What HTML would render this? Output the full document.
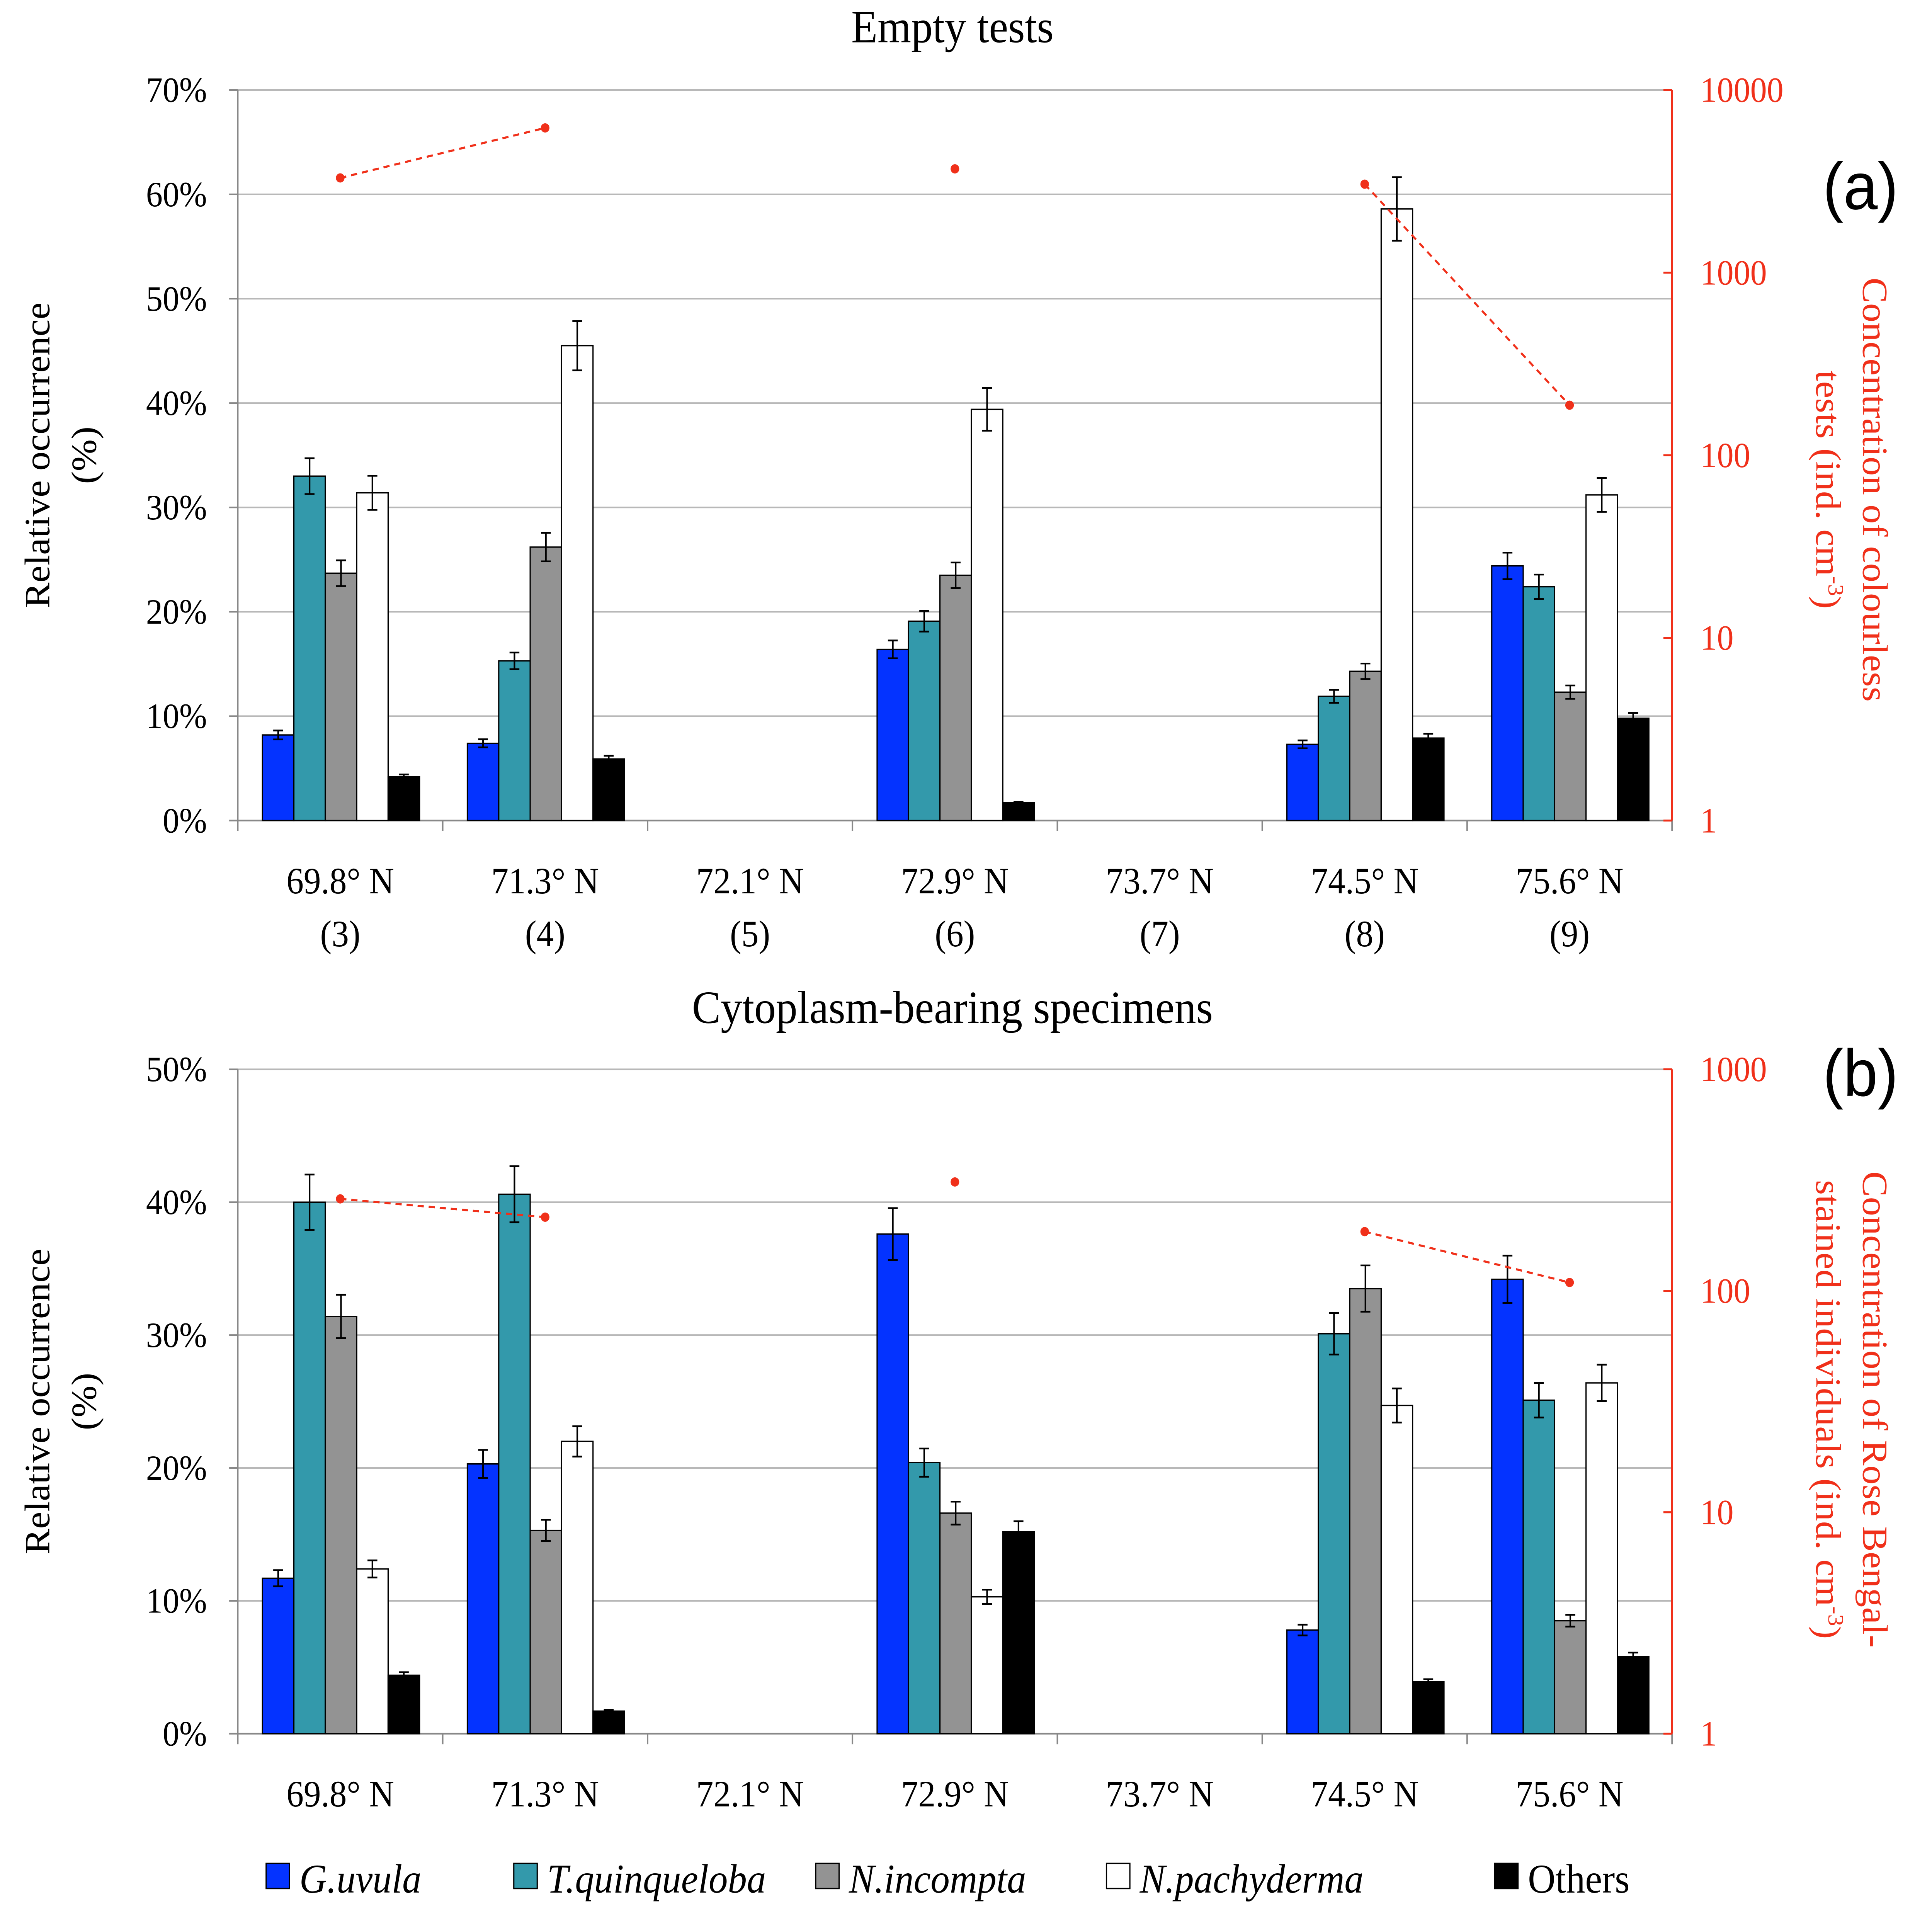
<!DOCTYPE html>
<html><head><meta charset="utf-8"><style>html,body{margin:0;padding:0;background:#fff;width:100%;height:100%;overflow:hidden}svg{display:block;width:100vw;height:100vh}</style></head>
<body>
<svg id="fig" xmlns="http://www.w3.org/2000/svg" viewBox="0 0 1568 1447" preserveAspectRatio="none" font-family="'Liberation Serif', serif">
<rect width="1568" height="1447" fill="#fff"/>
<g id="root"></g>
</svg>
<script>
const categories = ["69.8° N","71.3° N","72.1° N","72.9° N","73.7° N","74.5° N","75.6° N"];
const catNumbers = ["(3)","(4)","(5)","(6)","(7)","(8)","(9)"];
const seriesNames = ["G.uvula","T.quinqueloba","N.incompta","N.pachyderma","Others"];
const seriesColors = ["#0433ff","#3399ab","#939393","#ffffff","#000000"];
// Panel a values (%)
const aGuvula = [8.2, 7.4, null, 16.4, null, 7.3, 24.4];
const aTquin  = [33.0, 15.3, null, 19.1, null, 11.9, 22.4];
const aNinc   = [23.7, 26.2, null, 23.5, null, 14.3, 12.3];
const aNpach  = [31.4, 45.5, null, 39.4, null, 58.6, 31.2];
const aOthers = [4.2, 5.9, null, 1.7, null, 7.9, 9.8];
const aConc   = [3300, 6200, null, 3700, null, 3050, 188];
// Panel b values (%)
const bGuvula = [11.7, 20.3, null, 37.6, null, 7.8, 34.2];
const bTquin  = [40.0, 40.6, null, 20.4, null, 30.1, 25.1];
const bNinc   = [31.4, 15.3, null, 16.6, null, 33.5, 8.5];
const bNpach  = [12.4, 22.0, null, 10.3, null, 24.7, 26.4];
const bOthers = [4.4, 1.7, null, 15.2, null, 3.9, 5.8];
const bConc   = [260, 215, null, 310, null, 185, 109];
const aLeftTicks = ["0%","10%","20%","30%","40%","50%","60%","70%"];
const aRightTicks = ["1","10","100","1000","10000"];
const bLeftTicks = ["0%","10%","20%","30%","40%","50%"];
const bRightTicks = ["1","10","100","1000"];

const NS="http://www.w3.org/2000/svg";
const root=document.getElementById('root');
function mk(tag,attrs,parent,text){const e=document.createElementNS(NS,tag);for(const k in attrs)e.setAttribute(k,attrs[k]);if(text!==undefined)e.textContent=text;(parent||root).appendChild(e);return e;}
const RED="#f0301a";
const X0=193,X1=1357,GW=(X1-X0)/7,BW=25.5,BOFF=20;

function panel(p){
  const g=mk('g',{});
  
  
  const y=v=>p.yb-(v/p.maxPct)*(p.yb-p.yt);
  const yr=v=>p.yb-(Math.log10(v)/p.decades)*(p.yb-p.yt);
  p.leftTicks.forEach((t,i)=>{
    const yy=y(i*10);
    if(i>0){const l=mk('line',{x1:X0,x2:X1,y1:yy,y2:yy,stroke:'#b8b8b8','stroke-width':1.2},g);
    }
    const tk=mk('line',{x1:X0-7,x2:X0,y1:yy,y2:yy,stroke:'#888','stroke-width':1.2},g);
    
    const tx=mk('text',{x:168,y:yy+9,'text-anchor':'end','font-size':27},g,t);
    
  });
  const ax=mk('line',{x1:X0,x2:X0,y1:p.yt,y2:p.yb,stroke:'#888','stroke-width':1.2},g);
  
  const xa=mk('line',{x1:X0,x2:X1,y1:p.yb,y2:p.yb,stroke:'#888','stroke-width':1.2},g);
  
  for(let i=0;i<=7;i++){const xx=X0+i*GW;const t=mk('line',{x1:xx,x2:xx,y1:p.yb,y2:p.yb+8,stroke:'#888','stroke-width':1.2},g);
    }
  const ra=mk('line',{x1:X1,x2:X1,y1:p.yt,y2:p.yb,stroke:RED,'stroke-width':1.5},g);
  
  p.rightTicks.forEach((t,i)=>{const yy=yr(Math.pow(10,i));
    const tk=mk('line',{x1:X1-7,x2:X1,y1:yy,y2:yy,stroke:RED,'stroke-width':1.5},g);
    
    const tx=mk('text',{x:1380,y:yy+9,'font-size':27,fill:RED},g,t);
    });
  p.series.forEach((arr,s)=>{
    arr.forEach((v,i)=>{
      if(v===null)return;
      const x=X0+i*GW+BOFF+s*BW;
      const r=mk('rect',{x:x,y:y(v),width:BW,height:p.yb-y(v),fill:seriesColors[s],stroke:'#000','stroke-width':1},g);
      
      
      const e=v*0.052, cx=x+BW/2;
      const eb=mk('path',{d:`M${cx},${y(v+e)}V${y(v-e)}M${cx-4},${y(v+e)}H${cx+4}M${cx-4},${y(v-e)}H${cx+4}`,stroke:'#000','stroke-width':1.3,fill:'none'},g);
      
    });
  });
  for(let i=0;i<p.conc.length-1;i++){
    if(p.conc[i]!==null&&p.conc[i+1]!==null){
      const l=mk('line',{x1:X0+(i+0.5)*GW,y1:yr(p.conc[i]),x2:X0+(i+1.5)*GW,y2:yr(p.conc[i+1]),stroke:RED,'stroke-width':1.6,'stroke-dasharray':'5,4'},g);
      
    }
  }
  p.conc.forEach((v,i)=>{if(v===null)return;
    const c=mk('circle',{cx:X0+(i+0.5)*GW,cy:yr(v),r:3.5,fill:RED},g);
    });
  categories.forEach((c,i)=>{const cx=X0+(i+0.5)*GW;
    const t=mk('text',{x:cx,y:p.yb+55,'text-anchor':'middle','font-size':28},g,c);
    
    if(p.nums){const t2=mk('text',{x:cx,y:p.yb+95,'text-anchor':'middle','font-size':28},g,catNumbers[i]);
      }
  });
  const title=mk('text',{x:773,y:p.titleY,'text-anchor':'middle','font-size':35},g,p.title);
  
  const cy=(p.yt+p.yb)/2;
  const lt=mk('text',{transform:`translate(40,${cy}) rotate(-90)`,'text-anchor':'middle','font-size':29},g,'Relative occurrence');
  
  const lt2=mk('text',{transform:`translate(78,${cy}) rotate(-90)`,'text-anchor':'middle','font-size':29},g,'(%)');
  
  const rt=mk('text',{transform:`translate(1512,${p.rcy}) rotate(90)`,'text-anchor':'middle','font-size':29,fill:RED},g);
  
  mk('tspan',{x:0,dy:0},rt,p.r1);
  mk('tspan',{x:0,dy:38},rt,p.r2);
  mk('tspan',{'baseline-shift':'super','font-size':18},rt,'-3');
  mk('tspan',{},rt,')');
  const lab=mk('text',{x:1510,y:p.labY,'text-anchor':'middle','font-size':50,'font-family':"'Liberation Sans', sans-serif"},g,p.lab);
  
}
panel({name:'panel-a',yt:68,yb:620,maxPct:70,decades:4,leftTicks:aLeftTicks,rightTicks:aRightTicks,
  series:[aGuvula,aTquin,aNinc,aNpach,aOthers],conc:aConc,nums:true,title:'Empty tests',titleY:32,
  r1:'Concentration of colourless',r2:'tests (ind. cm',rcy:370,lab:'(a)',labY:158});
panel({name:'panel-b',yt:808,yb:1310,maxPct:50,decades:3,leftTicks:bLeftTicks,rightTicks:bRightTicks,
  series:[bGuvula,bTquin,bNinc,bNpach,bOthers],conc:bConc,nums:false,title:'Cytoplasm-bearing specimens',titleY:773,
  r1:'Concentration of Rose Bengal-',r2:'stained individuals (ind. cm',rcy:1065,lab:'(b)',labY:828});
const lg=mk('g',{});


const legX=[216,417,662,898,1213];
seriesNames.forEach((n,i)=>{
  const sw=mk('rect',{x:legX[i],y:1408,width:19,height:19,fill:seriesColors[i],stroke:'#000','stroke-width':1},lg);
  
  const t=mk('text',{x:legX[i]+27,y:1430,'font-size':31,'font-style':i<4?'italic':'normal'},lg,n);
  
});
</script>
</body></html>
